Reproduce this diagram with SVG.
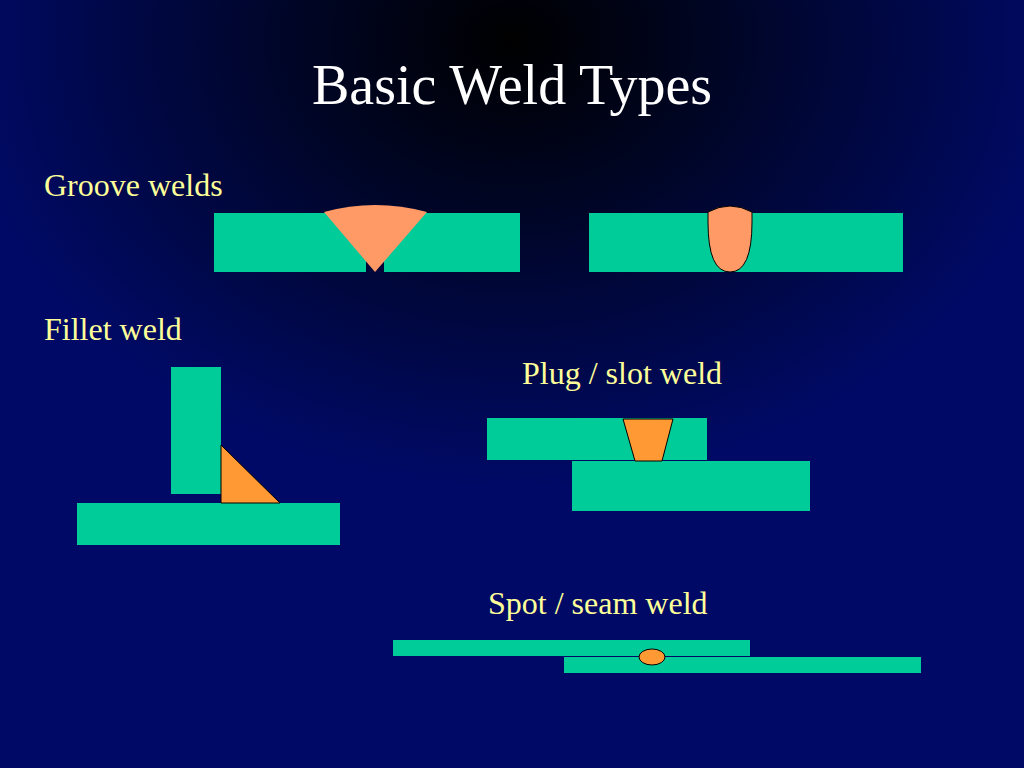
<svg xmlns="http://www.w3.org/2000/svg" width="1024" height="768" viewBox="0 0 1024 768">
<defs>
<radialGradient id="bg" cx="512" cy="40" r="560" gradientUnits="userSpaceOnUse" gradientTransform="translate(512 40) scale(1 0.8) translate(-512 -40)">
<stop offset="0" stop-color="#000000"/>
<stop offset="0.35" stop-color="#000522"/>
<stop offset="1" stop-color="#000a66"/>
</radialGradient>
<style>
.plate{fill:#00cc99}
.weld{fill:#ff9966;stroke:#000;stroke-width:1}
.weld2{fill:#ff9933;stroke:#000;stroke-width:1}
.lbl{font-family:"Liberation Serif",serif;font-size:32px;fill:#ffff99}
</style>
</defs>
<rect width="1024" height="768" fill="url(#bg)"/>
<text x="512" y="104" text-anchor="middle" font-family="Liberation Serif, serif" font-size="56" fill="#ffffff">Basic Weld Types</text>
<g id="groove-v">
<text class="lbl" x="44" y="196">Groove welds</text>
<rect class="plate" x="214" y="213" width="152" height="59"/>
<rect class="plate" x="384" y="213" width="136" height="59"/>
<path class="weld" style="stroke:none" d="M324,212 Q375,198 427,212 L375,272 Z"/>
</g>
<g id="groove-u">
<rect class="plate" x="589" y="213" width="314" height="59"/>
<path class="weld" d="M708,212 Q730,200 752,212 L752,222 Q752,272 730,272 Q708,272 708,222 Z"/>
</g>
<g id="fillet">
<text class="lbl" x="44" y="340">Fillet weld</text>
<rect class="plate" x="171" y="367" width="50" height="127"/>
<rect class="plate" x="77" y="503" width="263" height="42"/>
<path class="weld2" d="M221,445 L221,503 L280,503 Z"/>
</g>
<g id="plug">
<text class="lbl" x="522" y="384">Plug / slot weld</text>
<rect class="plate" x="487" y="418" width="220" height="42"/>
<rect class="plate" x="572" y="461" width="238" height="50"/>
<path class="weld2" d="M623,419 L673,419 L662,461 L635,461 Z"/>
</g>
<g id="spot">
<text class="lbl" x="488" y="614">Spot / seam weld</text>
<rect class="plate" x="393" y="640" width="357" height="16"/>
<rect class="plate" x="564" y="657" width="357" height="16"/>
<ellipse class="weld2" cx="652" cy="657" rx="13" ry="8"/>
</g>
<g id="connectors"/>
</svg>
